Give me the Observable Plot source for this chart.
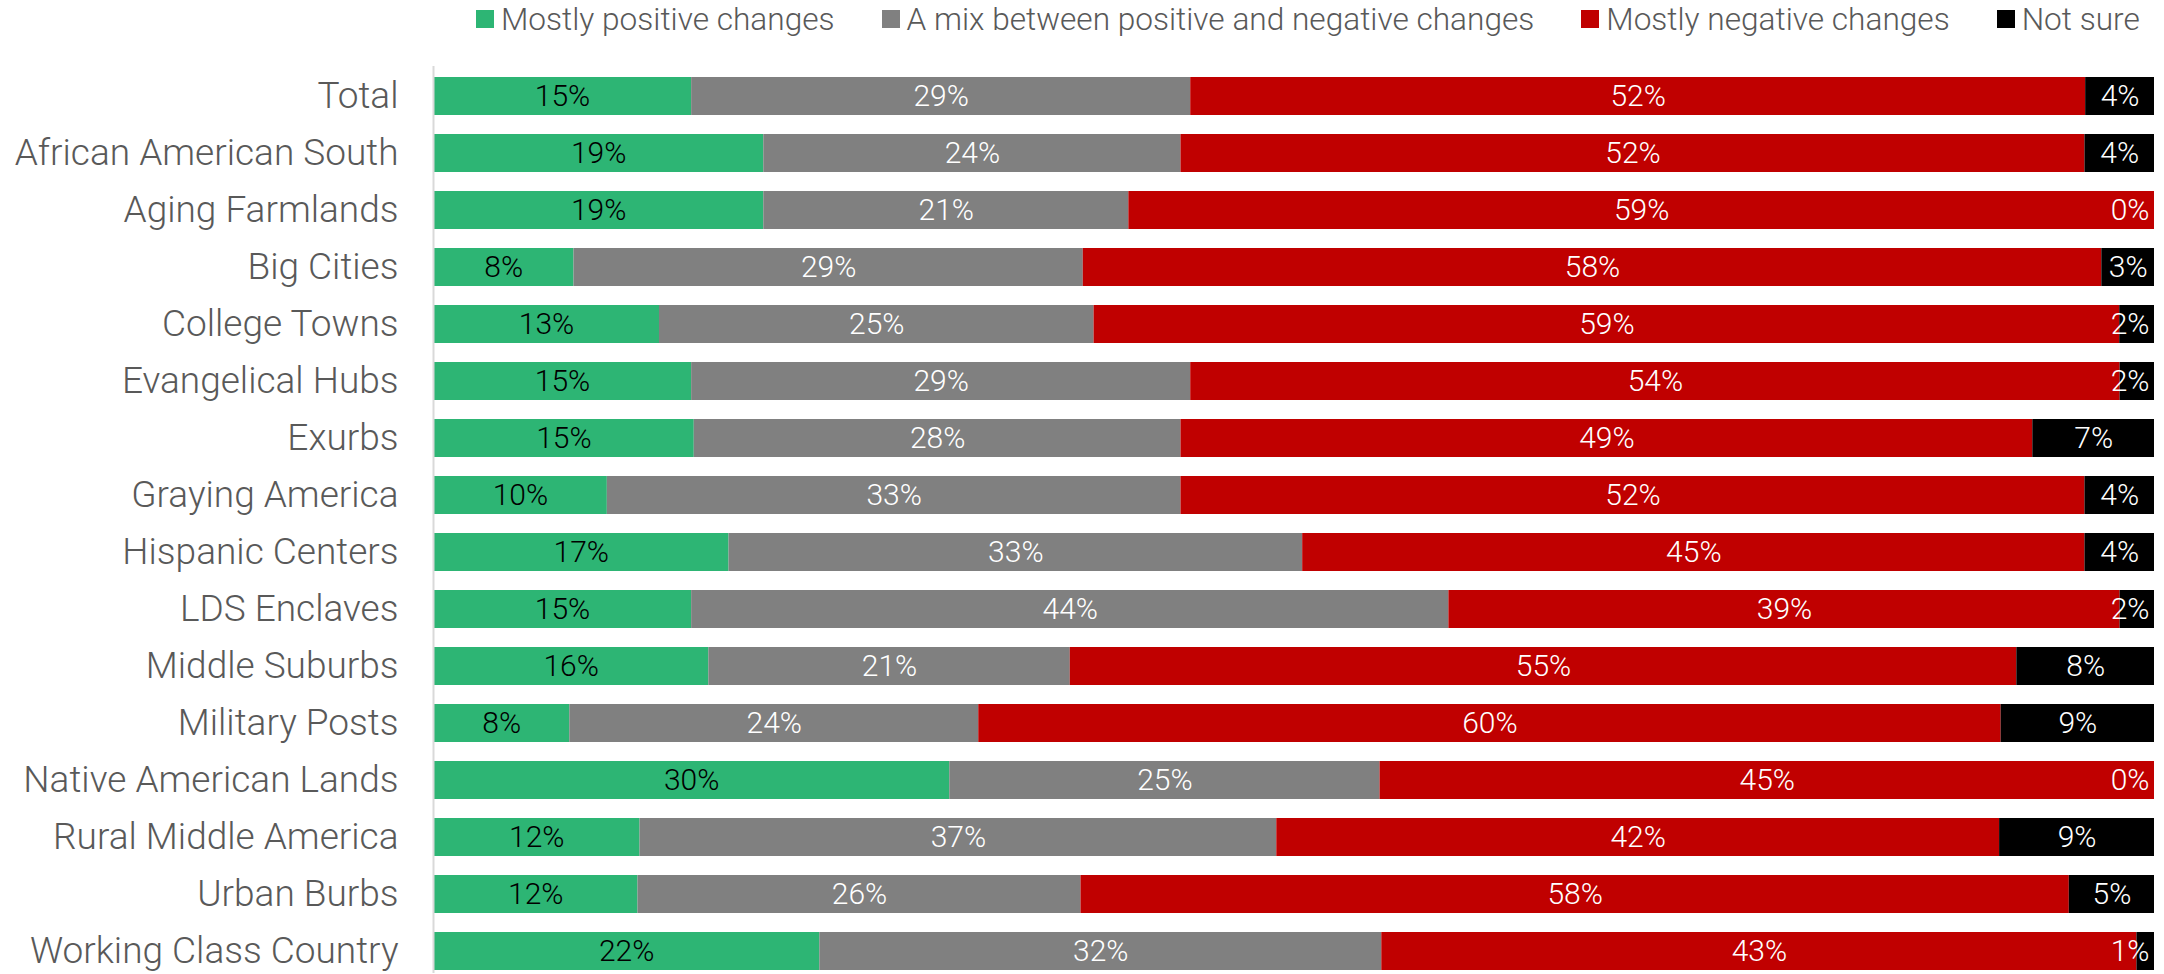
<!DOCTYPE html>
<html><head><meta charset="utf-8">
<script src="https://cdn.jsdelivr.net/npm/d3@7"></script>
<script src="https://cdn.jsdelivr.net/npm/@observablehq/plot@0.6"></script>
<style>
body{margin:0;background:#fff;overflow:hidden;font-family:Roboto,"Liberation Sans",sans-serif;}
#legend{height:40px;display:flex;align-items:center;padding-left:476px;gap:47px;box-sizing:border-box;padding-bottom:2px;}
.item{display:flex;align-items:center;font-size:31.6px;font-weight:300;color:#595959;white-space:nowrap;}
.sw{width:18px;height:18px;margin-right:7px;}
</style></head><body>
<div id="legend"></div><div id="chart"></div>
<script>
const categories = ["Total","African American South","Aging Farmlands","Big Cities","College Towns","Evangelical Hubs","Exurbs","Graying America","Hispanic Centers","LDS Enclaves","Middle Suburbs","Military Posts","Native American Lands","Rural Middle America","Urban Burbs","Working Class Country"];
const positive = [15,19,19,8,13,15,15,10,17,15,16,8,30,12,12,22];
const mixed    = [29,24,21,29,25,29,28,33,33,44,21,24,25,37,26,32];
const negative = [52,52,59,58,59,54,49,52,45,39,55,60,45,42,58,43];
const notSure  = [4,4,0,3,2,2,7,4,4,2,8,9,0,9,5,1];
const responses = ["Mostly positive changes","A mix between positive and negative changes","Mostly negative changes","Not sure"];
const colors = ["#2db574","#808080","#c00000","#000000"];

const series = [positive, mixed, negative, notSure];
const data = categories.flatMap((c, i) => responses.map((r, j) => ({category: c, response: r, value: series[j][i]})));

// legend
const legend = document.getElementById("legend");
responses.forEach((r, j) => {
  const it = document.createElement("div"); it.className = "item";
  const sw = document.createElement("div"); sw.className = "sw"; sw.style.background = colors[j];
  const tx = document.createElement("span"); tx.textContent = r;
  it.appendChild(sw); it.appendChild(tx); legend.appendChild(it);
});

const isClamped = d => d.response === responses[3] && d.value < 2.5;
const base = {x: "value", y: "category", z: "response", offset: "normalize"};
const font = "Roboto, 'Liberation Sans', sans-serif";

const chart = Plot.plot({
  width: 2164, height: 934,
  marginLeft: 433, marginRight: 10, marginTop: 33, marginBottom: 1,
  x: {axis: null, domain: [0, 1]},
  y: {domain: categories, paddingInner: 0.335, paddingOuter: 0.05, label: null, axis: null},
  color: {domain: responses, range: colors},
  style: {fontFamily: font, background: "white"},
  marks: [
    Plot.barX(data, Plot.stackX({...base, fill: "response"})),
    Plot.ruleX([0], {stroke: "#d9d9d9", strokeWidth: 2, insetTop: -7}),
    Plot.text(data, Plot.stackX({...base, text: d => d.response === responses[0] ? d.value + "%" : "", fill: "black", fontSize: 30, fontWeight: 300})),
    Plot.text(data, Plot.stackX({...base, text: d => (d.response !== responses[0] && !isClamped(d)) ? d.value + "%" : "", fill: "white", fontSize: 30, fontWeight: 300})),
    Plot.text(data, Plot.stackX2({...base, text: d => isClamped(d) ? d.value + "%" : "", fill: "white", fontSize: 30, fontWeight: 300, textAnchor: "end", dx: -5})),
    Plot.axisY({tickSize: 0, tickPadding: 35, fontSize: 37, fontWeight: 300, color: "#595959", label: null})
  ]
});
document.getElementById("chart").appendChild(chart);
</script>
</body></html>
